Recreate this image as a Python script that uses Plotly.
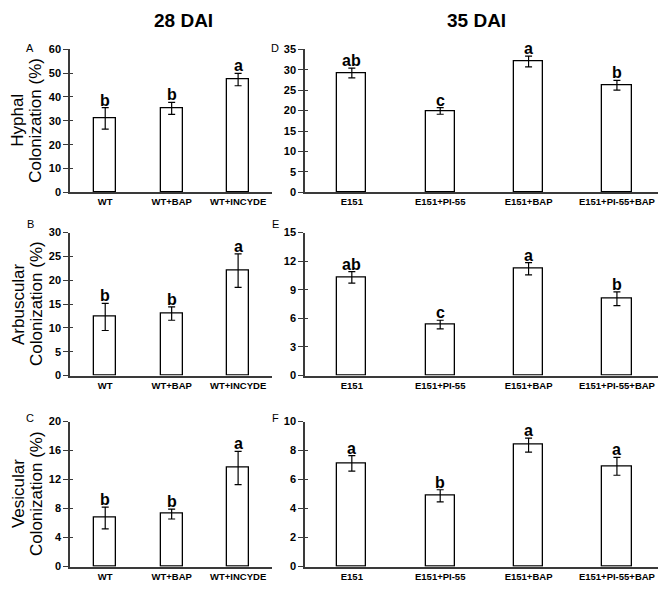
import plotly.graph_objects as go

# ---------------- data ----------------
cats_28 = ["WT", "WT+BAP", "WT+INCYDE"]
cats_35 = ["E151", "E151+PI-55", "E151+BAP", "E151+PI-55+BAP"]

hyphal_28 = [31.0, 35.2, 47.3]
hyphal_28_err = [4.5, 2.5, 2.6]
hyphal_28_sig = ["b", "b", "a"]

hyphal_35 = [29.2, 19.9, 32.0, 26.2]
hyphal_35_err = [1.2, 0.8, 1.3, 1.2]
hyphal_35_sig = ["ab", "c", "a", "b"]

arbus_28 = [12.3, 13.0, 22.0]
arbus_28_err = [2.85, 1.4, 3.5]
arbus_28_sig = ["b", "b", "a"]

arbus_35 = [10.3, 5.35, 11.2, 8.05]
arbus_35_err = [0.6, 0.45, 0.65, 0.72]
arbus_35_sig = ["ab", "c", "a", "b"]

vesic_28 = [6.7, 7.25, 13.6]
vesic_28_err = [1.5, 0.68, 2.3]
vesic_28_sig = ["b", "b", "a"]

vesic_35 = [7.12, 4.88, 8.38, 6.92]
vesic_35_err = [0.53, 0.42, 0.48, 0.62]
vesic_35_sig = ["a", "b", "a", "a"]

y_max = {"A": 60, "B": 30, "C": 20, "D": 35, "E": 15, "F": 10}
y_dtick = {"A": 10, "B": 5, "C": 4, "D": 5, "E": 3, "F": 2}
row_titles = [("Hyphal", "Colonization (%)"), ("Arbuscular", "Colonization (%)"),
              ("Vesicular", "Colonization (%)")]
col_titles = ["28 DAI", "35 DAI"]

# ---------------- layout ----------------
W, H = 666, 595
OFF = 8  # page body margin offset
FONT = "Liberation Sans, Arial, sans-serif"
AX = "#3a3a3a"

def fx(p):
    return (p - OFF) / W

def fy(p):
    return 1 - (p - OFF) / H

col_x = [[fx(70), fx(272)], [fx(305), fx(662)]]
row_y = [[fy(190), fy(44)], [fy(377), fy(231)], [fy(572), fy(424)]]

panels = [
    ("A", 0, 0, cats_28, hyphal_28, hyphal_28_err, hyphal_28_sig),
    ("D", 0, 1, cats_35, hyphal_35, hyphal_35_err, hyphal_35_sig),
    ("B", 1, 0, cats_28, arbus_28, arbus_28_err, arbus_28_sig),
    ("E", 1, 1, cats_35, arbus_35, arbus_35_err, arbus_35_sig),
    ("C", 2, 0, cats_28, vesic_28, vesic_28_err, vesic_28_sig),
    ("F", 2, 1, cats_35, vesic_35, vesic_35_err, vesic_35_sig),
]

fig = go.Figure()
layout = {}
annotations = []

for i, (lab, r, c, cats, vals, errs, sig) in enumerate(panels):
    n = i + 1
    xa = "x" if n == 1 else f"x{n}"
    ya = "y" if n == 1 else f"y{n}"
    xk = "xaxis" if n == 1 else f"xaxis{n}"
    yk = "yaxis" if n == 1 else f"yaxis{n}"
    yo = f"y{n + 6}"
    yok = f"yaxis{n + 6}"
    idx = list(range(len(cats)))
    fig.add_trace(go.Bar(
        x=idx, y=vals, xaxis=xa, yaxis=ya, width=0.33,
        marker=dict(color="white", line=dict(color="black", width=1.3)),
        error_y=dict(type="data", array=errs, visible=True,
                     color="black", thickness=1.2, width=3.5),
        showlegend=False, hoverinfo="skip",
    ))
    # invisible trace for inner tick overlay axis
    fig.add_trace(go.Scatter(
        x=[idx[0]], y=[0], xaxis=xa, yaxis=yo, mode="markers",
        marker=dict(opacity=0), showlegend=False, hoverinfo="skip",
    ))
    layout[xk] = dict(
        domain=col_x[c], anchor=ya, range=[-0.53, len(cats) - 0.49],
        tickmode="array", tickvals=idx, ticktext=cats, ticks="",
        showline=True, linecolor=AX, linewidth=1.5, showgrid=False,
        zeroline=False, fixedrange=True,
        tickfont=dict(family=FONT, size=9.5, color="black", weight="bold"),
    )
    layout[yk] = dict(
        domain=row_y[r], anchor=xa, range=[0, y_max[lab]],
        dtick=y_dtick[lab], tick0=0, ticks="outside", ticklen=5,
        tickwidth=1.3, tickcolor=AX,
        showline=True, linecolor=AX, linewidth=1.5, showgrid=False,
        zeroline=False, fixedrange=True,
        tickfont=dict(family=FONT, size=11, color="black", weight="bold"),
    )
    layout[yok] = dict(
        domain=row_y[r], anchor=xa, overlaying=ya, side="left",
        range=[0, y_max[lab]], dtick=y_dtick[lab], tick0=0,
        ticks="inside", ticklen=3, tickwidth=1.3, tickcolor=AX,
        showticklabels=False, showline=False, showgrid=False,
        zeroline=False, fixedrange=True,
    )
    # significance letters
    for k in idx:
        annotations.append(dict(
            x=k, y=vals[k] + errs[k], xref=xa, yref=ya,
            text=f"<b>{sig[k]}</b>", showarrow=False,
            yanchor="bottom", xanchor="center", yshift=-3,
            font=dict(family=FONT, size=16, color="black"),
        ))
    # panel letter
    lx = 30 if c == 0 else 275
    ly = [43, 222, 420][r]
    annotations.append(dict(
        x=fx(lx), y=fy(ly), xref="paper", yref="paper",
        text=lab, showarrow=False, xanchor="center", yanchor="middle",
        font=dict(family=FONT, size=11, color="black"),
    ))

# row titles (two stacked rotated lines)
for r, (t1, t2) in enumerate(row_titles):
    yc = (row_y[r][0] + row_y[r][1]) / 2
    for xpx, t in ((18, t1), (36, t2)):
        annotations.append(dict(
            x=fx(xpx), y=yc, xref="paper", yref="paper", text=t,
            textangle=-90, showarrow=False, xanchor="center", yanchor="middle",
            font=dict(family=FONT, size=17, color="black"),
        ))

# column titles
for c, t in enumerate(col_titles):
    xc = [183, 477][c]
    annotations.append(dict(
        x=fx(xc), y=fy(15), xref="paper", yref="paper",
        text=f"<b>{t}</b>", showarrow=False, xanchor="center", yanchor="middle",
        font=dict(family=FONT, size=19, color="black"),
    ))

fig.update_layout(
    width=W, height=H, margin=dict(l=0, r=0, t=0, b=0),
    paper_bgcolor="white", plot_bgcolor="white",
    annotations=annotations, bargap=0, **layout,
)

fig.write_html("out.html")
